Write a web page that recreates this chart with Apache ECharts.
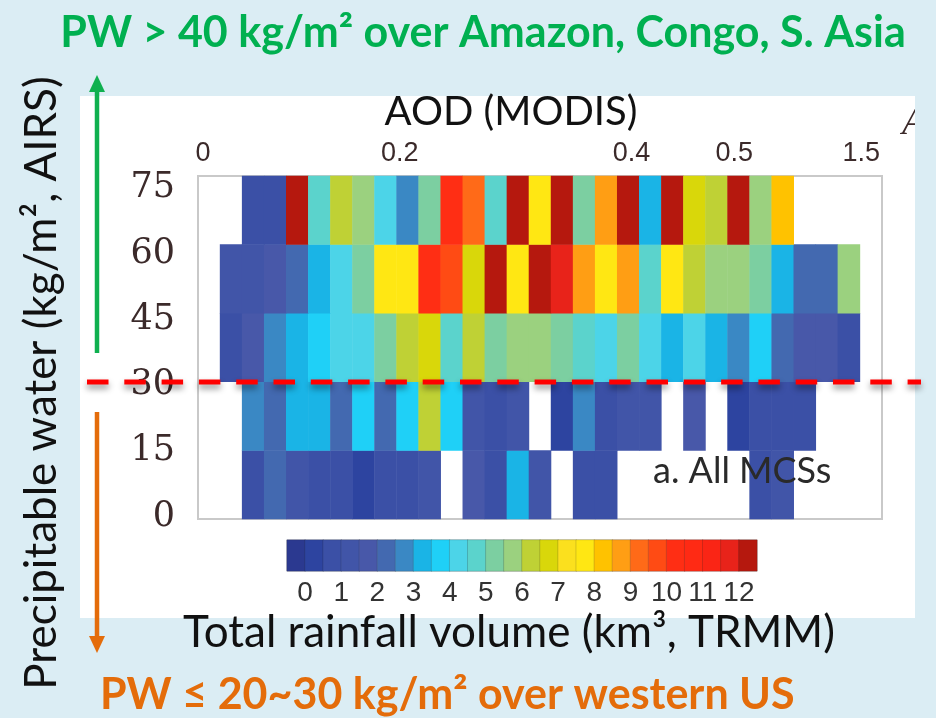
<!DOCTYPE html>
<html>
<head>
<meta charset="utf-8">
<script src="https://cdn.jsdelivr.net/npm/echarts@6/dist/echarts.min.js"></script>
<style>
  html, body { margin: 0; padding: 0; background: #dbedf4; }
  #chart { width: 936px; height: 718px; }
</style>
</head>
<body>
<div id="chart"></div>
<script>
/* AOD bins along x (31 columns), PW bins along y */
const aodTickPos = [0.23, 9.14, 19.65, 24.3, 30.06];
const aodTickLabels = ["0", "0.2", "0.4", "0.5", "1.5"];
const pwTicks = [0, 15, 30, 45, 60, 75];
const pwBins = ["0-15", "15-30", "30-45", "45-60", "60-75"];

/* total rainfall volume (km3) per cell, null = no MCS */
const _ = null;
const rain0_15 = [_, _, 0.75, 2.25, 1.25, 0.75, 0.75, 0.25, 0.75, 0.75, 1.25, _, 1.75, 0.75, 3.25, 1.25,
  _, 0.75, 0.75, _, _, _, _, _, _, 0.75, 1.25, _, _, _, _];
const rain15_30 = [_, _, 2.75, 2.25, 3.25, 3.25, 2.25, 3.75, 2.25, 3.75, 6.25, 3.75, 1.25, 0.75, 1.25, _,
  0.25, 2.75, 0.75, 1.25, 1.25, _, 1.75, _, 0.25, 0.75, 0.75, 0.75, _, _, _];
const rain30_45 = [_, 0.75, 1.75, 2.75, 3.25, 3.75, 4.25, 4.25, 5.25, 6.25, 6.75, 4.75, 6.25, 5.25, 5.75, 5.75,
  5.25, 4.75, 4.25, 5.25, 4.25, 3.25, 4.25, 3.25, 2.75, 3.75, 2.25, 1.75, 1.75, 0.75, _];
const rain45_60 = [_, 1.25, 1.25, 1.75, 2.25, 3.25, 4.25, 5.25, 7.75, 7.75, 10.25, 9.75, 6.75, 12.25, 7.75, 12.25,
  11.75, 8.75, 7.75, 8.75, 4.75, 7.75, 6.25, 5.75, 5.75, 5.25, 3.25, 2.25, 2.25, 5.75, _];
const rain60_75 = [_, _, 0.75, 0.75, 12.25, 4.75, 6.25, 5.75, 4.25, 2.75, 5.25, 10.25, 9.25, 4.75, 12.25, 7.75,
  12.25, 5.25, 8.75, 12.25, 3.25, 12.25, 6.75, 6.25, 12.25, 5.75, 8.25, _, _, _, _];
const rainRows = [rain0_15, rain15_30, rain30_45, rain45_60, rain60_75];

/* colour bar: 26 bins of 0.5 km3 from -0.5 to 12.5 */
const cbarColors = [
  "#2b3990", "#2d44a0", "#3b50a6", "#4155a8", "#4858a9", "#4369b0", "#3a88c4",
  "#1ab4e6", "#1fd0f7", "#4cd4e8", "#5bd3cc", "#7ccfa1", "#9bd17f", "#bfd135",
  "#d9d70a", "#fbe01e", "#ffe713", "#ffc200", "#ff9e14", "#ff6a18", "#ff4b14",
  "#ff2e14", "#ff2a14", "#fa2515", "#e8231a", "#b5180e"
];
const cbarTicks = [0, 1, 2, 3, 4, 5, 6, 7, 8, 9, 10, 11, 12];

const nCols = rain0_15.length;
const heatData = [];
rainRows.forEach((row, r) => {
  row.forEach((v, c) => { if (v !== null) heatData.push([c, r, v]); });
});
const cbarData = cbarColors.map((c, i) => [i, 0, (2 * i - 1) / 4]);

const LABEL = "#3b2a2a";
const SANS = "Lato, 'Open Sans', sans-serif";

const chart = echarts.init(document.getElementById("chart"), null, { renderer: "canvas" });

chart.setOption({
  backgroundColor: "#dbedf4",
  animation: false,
  grid: [
    { left: 198, top: 176, width: 684, height: 343, show: true, outerBoundsMode: "none",
      backgroundColor: "#fff", borderColor: "#c9c9c9", borderWidth: 2 },
    { left: 287, top: 540, width: 470, height: 31, show: true, outerBoundsMode: "none",
      backgroundColor: "#fff", borderColor: "#bdbdbd", borderWidth: 1 },
  ],
  visualMap: {
    type: "piecewise",
    show: false,
    seriesIndex: [0, 1],
    dimension: 2,
    pieces: cbarColors.map((c, i) => ({ gte: (i - 1) / 2, lt: i / 2, color: c })),
  },
  xAxis: [
    { type: "category", gridIndex: 0, data: Array.from({ length: nCols }, (_, i) => i), show: false },
    { type: "value", gridIndex: 0, position: "top", min: 0, max: nCols,
      axisLine: { show: false }, axisTick: { show: false }, splitLine: { show: false },
      axisLabel: {
        customValues: aodTickPos, margin: 9,
        formatter: v => aodTickLabels[aodTickPos.indexOf(v)] ?? "",
        color: LABEL, fontSize: 27, fontFamily: "'Liberation Sans', Arial, sans-serif",
      } },
    { type: "category", gridIndex: 1, data: cbarColors.map((c, i) => i), show: false },
    { type: "value", gridIndex: 1, position: "bottom", min: -0.5, max: 12.5,
      axisLine: { show: false }, axisTick: { show: false }, splitLine: { show: false },
      axisLabel: {
        customValues: cbarTicks, margin: 8,
        color: "#333", fontSize: 28, fontFamily: "'Liberation Sans', Arial, sans-serif",
      } },
  ],
  yAxis: [
    { type: "category", gridIndex: 0, data: pwBins, show: false },
    { type: "value", gridIndex: 0, position: "left", min: -0.46, max: 77.74,
      axisLine: { show: false }, axisTick: { show: false }, splitLine: { show: false },
      axisLabel: {
        customValues: pwTicks, margin: 23,
        color: LABEL, fontSize: 35, fontFamily: "'DejaVu Serif', serif",
      } },
    { type: "category", gridIndex: 1, data: ["cb"], show: false },
  ],
  series: [
    { type: "heatmap", xAxisIndex: 0, yAxisIndex: 0, data: heatData,
      emphasis: { disabled: true } },
    { type: "heatmap", xAxisIndex: 2, yAxisIndex: 2, data: cbarData,
      itemStyle: { borderColor: "rgba(40,40,40,0.3)", borderWidth: 0.6 },
      emphasis: { disabled: true } },
  ],
  graphic: [
    // white slide panel behind the figure
    { type: "rect", z: -5, shape: { x: 80, y: 96, width: 835, height: 522 },
      style: { fill: "#fff" } },
    // clipped panel letter at top right
    { type: "text", z: 5, style: { text: "A", x: 902, y: 124, fill: LABEL,
      font: "italic 38px 'Liberation Serif', serif", textVerticalAlign: "middle" } },
    { type: "rect", z: 6, shape: { x: 915, y: 90, width: 21, height: 70 },
      style: { fill: "#dbedf4" } },
    { type: "text", z: 5, style: { text: "PW > 40 kg/m\u00b2 over Amazon, Congo, S. Asia",
      x: 483, y: 33, fill: "#00b050", font: "bold 43px " + SANS,
      textAlign: "center", textVerticalAlign: "middle" } },
    { type: "text", z: 5, style: { text: "AOD (MODIS)", x: 511, y: 112, fill: "#111",
      font: "40px " + SANS, textAlign: "center", textVerticalAlign: "middle" } },
    { type: "text", z: 5, style: { text: "Total rainfall volume (km\u00b3, TRMM)", x: 509, y: 633,
      fill: "#111", font: "44px " + SANS, textAlign: "center", textVerticalAlign: "middle" } },
    { type: "text", z: 5, style: { text: "PW \u2264 20~30 kg/m\u00b2 over western US", x: 100, y: 695,
      fill: "#e46c0a", font: "bold 43px " + SANS, textVerticalAlign: "middle" } },
    { type: "text", z: 5, x: 42, y: 383, rotation: Math.PI / 2,
      style: { text: "Precipitable water (kg/m\u00b2, AIRS)", x: 0, y: 0, fill: "#111",
      font: "44px " + SANS, textAlign: "center", textVerticalAlign: "middle" } },
    { type: "text", z: 5, style: { text: "a. All MCSs", x: 653, y: 471, fill: "#2a2a2a",
      font: "36px " + SANS, textVerticalAlign: "middle" } },
    // PW = 30 divider
    { type: "line", z: 10, shape: { x1: 87, y1: 382, x2: 921, y2: 382 },
      style: { stroke: "#ff0000", lineWidth: 5, lineDash: [21.5, 15.8],
        shadowBlur: 6, shadowColor: "rgba(0,0,0,0.45)", shadowOffsetY: 4 } },
    // green arrow up
    { type: "line", z: 10, shape: { x1: 97, y1: 353, x2: 97, y2: 88 },
      style: { stroke: "#0fb04f", lineWidth: 4.5 } },
    { type: "polygon", z: 10, shape: { points: [[97, 75], [89, 92], [105, 92]] },
      style: { fill: "#0fb04f" } },
    // orange arrow down
    { type: "line", z: 10, shape: { x1: 97, y1: 412, x2: 97, y2: 640 },
      style: { stroke: "#e46c0a", lineWidth: 4.5 } },
    { type: "polygon", z: 10, shape: { points: [[97, 653], [89, 636], [105, 636]] },
      style: { fill: "#e46c0a" } },
  ],
});
</script>
</body>
</html>
